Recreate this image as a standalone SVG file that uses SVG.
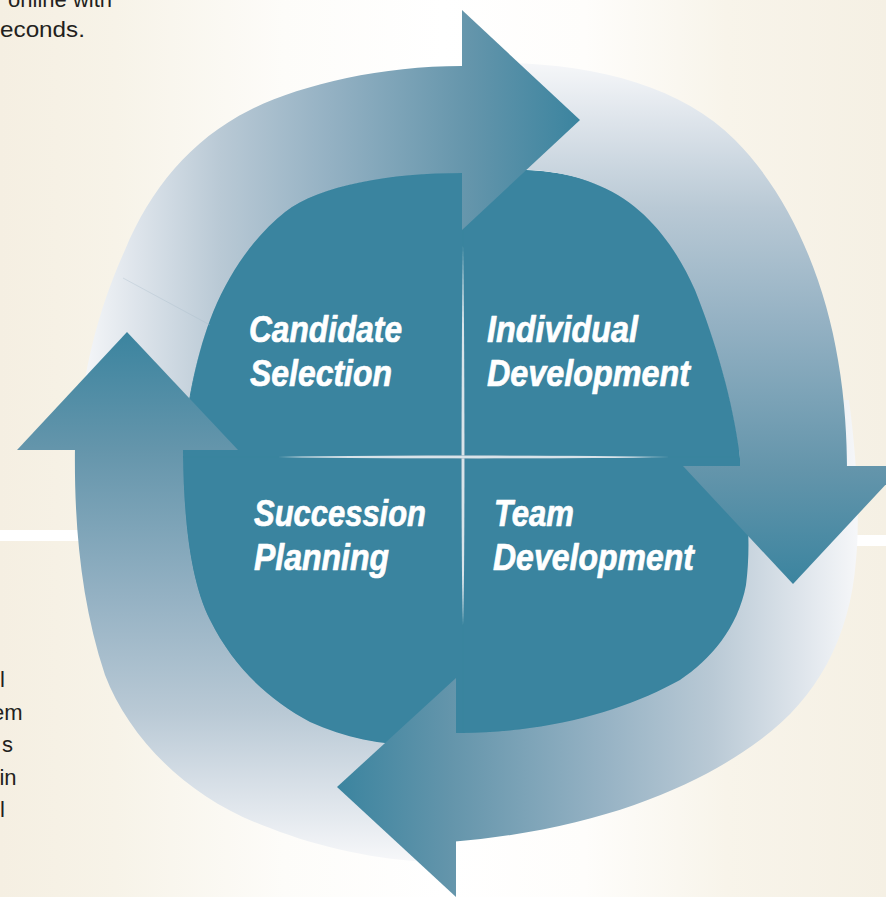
<svg xmlns="http://www.w3.org/2000/svg" width="886" height="897" viewBox="0 0 886 897">
<defs>
<linearGradient id="bg" gradientUnits="userSpaceOnUse" x1="0" y1="0" x2="886" y2="0">
<stop offset="0" stop-color="#f5efe2"/>
<stop offset="0.13" stop-color="#f7f3e8"/>
<stop offset="0.32" stop-color="#fdfcf9"/>
<stop offset="0.5" stop-color="#ffffff"/>
<stop offset="0.66" stop-color="#fefdfb"/>
<stop offset="0.82" stop-color="#f8f4ea"/>
<stop offset="1" stop-color="#f5f0e4"/>
</linearGradient>
<linearGradient id="ramp">
<stop offset="0" stop-color="#3b849f"/>
<stop offset="0.22" stop-color="#6495ab"/>
<stop offset="0.5" stop-color="#94b1c3"/>
<stop offset="0.72" stop-color="#b9c9d5"/>
<stop offset="0.88" stop-color="#dce3ea"/>
<stop offset="1" stop-color="#f6f7f9"/>
</linearGradient>
<linearGradient id="gTop" href="#ramp" gradientUnits="userSpaceOnUse" x1="580" y1="0" x2="80" y2="0"/>
<linearGradient id="gRight" href="#ramp" gradientUnits="userSpaceOnUse" x1="0" y1="584" x2="0" y2="62"/>
<linearGradient id="gBottom" href="#ramp" gradientUnits="userSpaceOnUse" x1="337" y1="0" x2="858" y2="0"/>
<linearGradient id="gLeft" href="#ramp" gradientUnits="userSpaceOnUse" x1="0" y1="332" x2="0" y2="860"/>
<linearGradient id="lineV" x1="0" y1="0" x2="1" y2="0">
<stop offset="0" stop-color="#9db8c6"/>
<stop offset="0.5" stop-color="#f2f6f8"/>
<stop offset="1" stop-color="#9db8c6"/>
</linearGradient>
<linearGradient id="lineH" x1="0" y1="0" x2="0" y2="1">
<stop offset="0" stop-color="#9db8c6"/>
<stop offset="0.5" stop-color="#f2f6f8"/>
<stop offset="1" stop-color="#9db8c6"/>
</linearGradient>
</defs>
<style>
.quad{fill:#3a849f;stroke:#3a849f;stroke-width:1.5;stroke-linejoin:round}
.label{font-family:"Liberation Sans",Arial,sans-serif;font-weight:bold;font-style:italic;font-size:37px;fill:#ffffff;stroke:#ffffff;stroke-width:0.7;stroke-linejoin:round}
.body{font-family:"Liberation Sans",Arial,Helvetica,sans-serif;font-size:22px;fill:#231f20}
</style>

<rect x="0" y="0" width="886" height="897" fill="url(#bg)"/>
<rect x="0" y="530" width="84" height="11" fill="#ffffff"/>
<rect x="848" y="535" width="38" height="11" fill="#ffffff"/>

<g id="page-text">
<text class="body" x="112" y="7" text-anchor="end">online with</text>
<text class="body" x="0" y="37" textLength="85" lengthAdjust="spacingAndGlyphs">econds.</text>
<text class="body" x="5" y="687" text-anchor="end">l</text>
<text class="body" x="22.5" y="720" text-anchor="end">em</text>
<text class="body" x="13" y="752" text-anchor="end">s</text>
<text class="body" x="16.5" y="785" text-anchor="end">in</text>
<text class="body" x="5" y="817" text-anchor="end">l</text>
</g>

<g id="node-candidate-selection">
<path class="quad" d="M463,457 L463,173 L462,173 C390,173 320,185 285,212 C250,240 225,280 210,320 C195,360 186,410 183,457 Z"/>
<text class="label" x="249" y="342" textLength="153" lengthAdjust="spacingAndGlyphs">Candidate</text>
<text class="label" x="250" y="386" textLength="142" lengthAdjust="spacingAndGlyphs">Selection</text>
</g>
<g id="node-individual-development">
<path class="quad" d="M463,457 L463,172 C510,169 560,168 600,186 C645,205 675,245 695,290 C715,340 733,400 740,457 Z"/>
<text class="label" x="487" y="342" textLength="151" lengthAdjust="spacingAndGlyphs">Individual</text>
<text class="label" x="487" y="386" textLength="203" lengthAdjust="spacingAndGlyphs">Development</text>
</g>
<g id="node-team-development">
<path class="quad" d="M463,457 L740,457 C746,490 752,540 746,585 C738,628 710,660 680,680 C640,702 590,720 530,728 C510,731 485,733 463,733 Z"/>
<text class="label" x="494" y="526" textLength="80" lengthAdjust="spacingAndGlyphs">Team</text>
<text class="label" x="493" y="570" textLength="201" lengthAdjust="spacingAndGlyphs">Development</text>
</g>
<g id="node-succession-planning">
<path class="quad" d="M463,457 L183,457 C184,520 190,580 210,620 C235,670 270,700 310,722 C345,738 380,745 420,745 L463,745 Z"/>
<text class="label" x="254" y="526" textLength="172" lengthAdjust="spacingAndGlyphs">Succession</text>
<text class="label" x="254" y="570" textLength="135" lengthAdjust="spacingAndGlyphs">Planning</text>
</g>

<g id="dividers">
<path d="M463,245 C465,380 465.5,530 463,625 C460.5,530 461,380 463,245 Z" fill="url(#lineV)"/>
<path d="M278,457 C400,459.2 560,459.2 670,457 C560,454.8 400,454.8 278,457 Z" fill="url(#lineH)"/>
</g>

<g id="connectors">
<path id="shaft-bottom" fill="url(#gBottom)" d="M849,400 C857,460 860,520 856,560 C850,640 815,700 760,740 C700,785 600,830 450,842 L450,733 L464,733 C485,733 510,731 530,728 C590,720 640,702 680,680 C710,660 738,628 746,585 C752,540 746,490 740,459 L736,400 Z"/>
<path id="shaft-left" fill="url(#gLeft)" d="M75,446 C74,520 80,600 105,675 C130,740 190,800 270,828 C320,848 380,860 430,862 L430,745 L420,745 C380,745 345,738 310,722 C270,700 235,670 210,620 C190,580 184,520 183,457 L183,446 Z"/>
<path id="shaft-top" fill="url(#gTop)" d="M468,66 L462,66 C380,66 300,85 250,110 C190,140 150,190 125,250 C100,305 82,370 78,440 L184,440 C186,410 195,360 210,320 C225,280 250,240 285,212 C320,185 390,173 462,173 L468,173 Z"/>
<path id="shaft-right" fill="url(#gRight)" d="M490,63 C590,62 680,85 735,140 C790,195 825,280 838,360 C845,400 847,440 847,470 L740,470 L740,457 C733,400 715,340 695,290 C675,245 645,205 600,186 C560,168 520,169 490,170 Z"/>
<line x1="123" y1="278" x2="210" y2="325" stroke="#a9bdca" stroke-width="0.8" opacity="0.45"/>
<polygon id="head-top" fill="url(#gTop)" points="462,10 580,120 462,230"/>
<polygon id="head-right" fill="url(#gRight)" points="683,466 903,466 793,584"/>
<polygon id="head-bottom" fill="url(#gBottom)" points="456,678 337,787 456,897"/>
<polygon id="head-left" fill="url(#gLeft)" points="17,450 127,332 238,450"/>
</g>
</svg>
